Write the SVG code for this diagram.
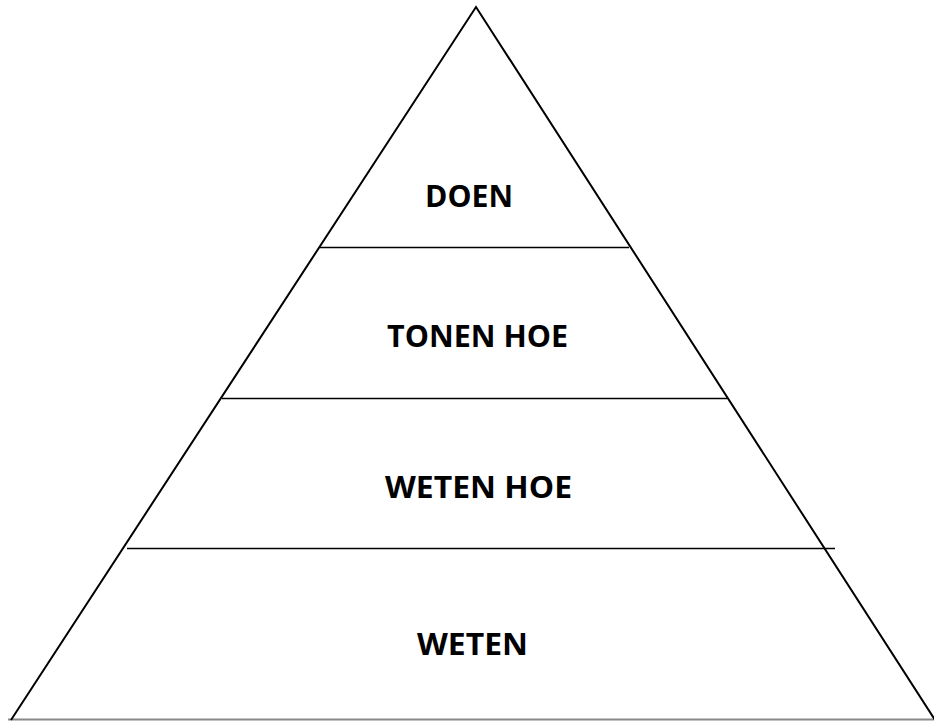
<svg xmlns="http://www.w3.org/2000/svg" width="934" height="722" viewBox="0 0 934 722">
<style>
.side{stroke:#000;stroke-width:2;fill:none}
.div{stroke:#000;stroke-width:1.6}
.lbl{font-family:"Open Sans","Liberation Sans",sans-serif;font-weight:bold;font-size:31px;fill:#000}
</style>
<rect width="934" height="722" fill="#fff"/>
<g id="connectors">
<line x1="8" y1="719.5" x2="934" y2="719.5" stroke="#888" stroke-width="2"/>
<polyline class="side" points="11,720 476,7 935,720"/>
<line class="div" x1="320" y1="247.5" x2="629" y2="247.5"/>
<line class="div" x1="222" y1="398.5" x2="727" y2="398.5"/>
<line class="div" x1="127" y1="548.5" x2="835" y2="548.5"/>
</g>
<g id="doen"><text class="lbl" x="425" y="207" textLength="88" lengthAdjust="spacingAndGlyphs">DOEN</text></g>
<g id="tonen-hoe"><text class="lbl" x="387" y="347" textLength="181" lengthAdjust="spacingAndGlyphs">TONEN HOE</text></g>
<g id="weten-hoe"><text class="lbl" x="385" y="498" textLength="187" lengthAdjust="spacingAndGlyphs">WETEN HOE</text></g>
<g id="weten"><text class="lbl" x="417" y="655" textLength="111" lengthAdjust="spacingAndGlyphs">WETEN</text></g>
</svg>
